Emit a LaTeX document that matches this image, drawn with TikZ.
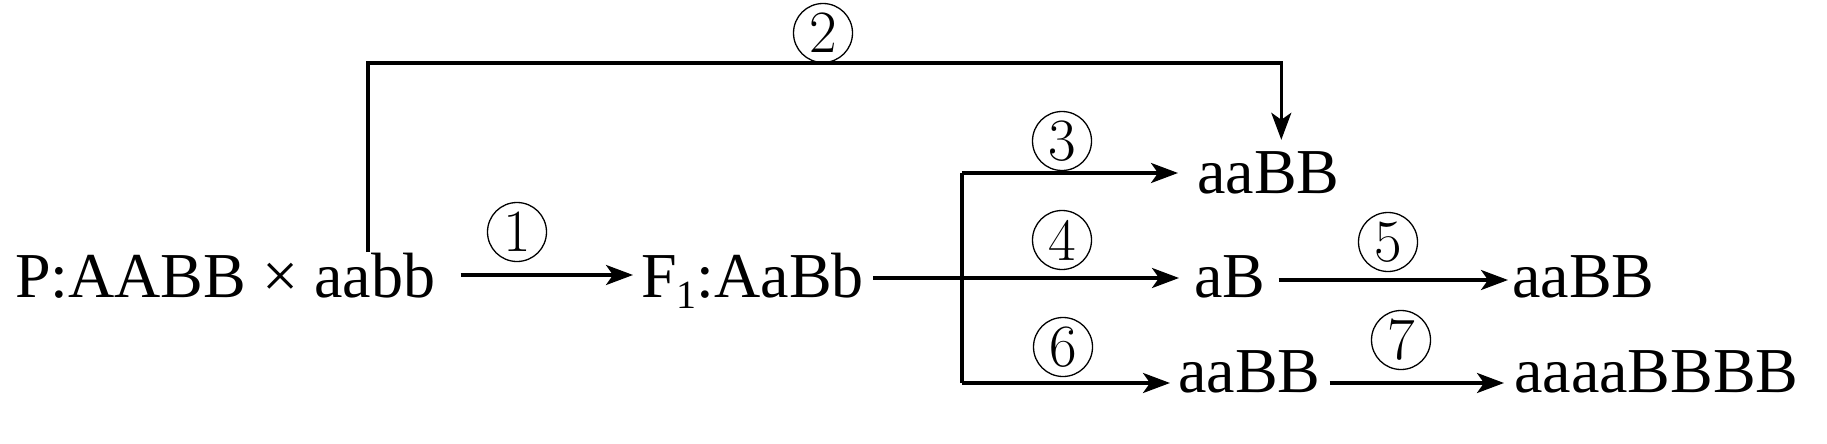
\documentclass[tikz,border=0pt]{standalone}
\usepackage{fontspec}
\newfontfamily\tnr{Liberation Serif}
\usetikzlibrary{arrows.meta}
\begin{document}
\begin{tikzpicture}[x=1pt,y=-1pt,
  lbl/.style={font=\tnr\fontsize{64}{64}\selectfont, inner sep=0pt, anchor=base west, text height=44pt, text depth=0pt},
  num/.style={draw, circle, line width=1.3pt, minimum size=59pt, inner sep=0pt, font=\fontsize{60}{60}\selectfont},
  conn/.style={line width=3.3pt},
  arr/.style={conn, -{Stealth[length=27pt,width=20pt,inset=7pt]}}]
\useasboundingbox (0,0) rectangle (1827,444);
% texts
\node[lbl] (p)  at (15,297)   {P:AABB × aabb};
\node[lbl] (f1) at (641,297)  {F\raisebox{-11pt}{\fontsize{40}{40}\selectfont 1}:AaBb};
\node[lbl] (t1) at (1197,193) {aaBB};
\node[lbl] (m1) at (1194,297) {aB};
\node[lbl] (m2) at (1512,297) {aaBB};
\node[lbl] (b1) at (1178,392) {aaBB};
\node[lbl] (b2) at (1514,392) {aaaaBBBB};
% circled numbers
\node[num] (n1) at (517,232)  {1};
\node[num] (n2) at (823,33)   {2};
\node[num] (n3) at (1062,141) {3};
\node[num] (n4) at (1062,240) {4};
\node[num] (n5) at (1388,242) {5};
\node[num] (n6) at (1063,347) {6};
\node[num] (n7) at (1401,340) {7};
% coordinates
\coordinate (brS) at (368,252);
\coordinate (busT) at (962,173);
\coordinate (busB) at (962,383);
% connectors
\draw[arr] ([xshift=25pt]p.east) -- ([xshift=-8pt]f1.west);
\draw[arr] (brS) -- (brS |- 0,63) -| ([xshift=13pt,yshift=9pt]t1.north);
\draw[arr] ([xshift=9pt,yshift=-3pt]f1.east) -- ([xshift=-15pt,yshift=-3pt]m1.west);
\draw[conn] (busT) -- (busB);
\draw[arr] (busT) -- ([xshift=-19pt]busT -| t1.west);
\draw[arr] (busB) -- ([xshift=-8pt]busB -| b1.west);
\draw[arr] ([xshift=13pt,yshift=-5pt]m1.east) -- ([xshift=-4pt,yshift=-5pt]m2.west);
\draw[arr] ([xshift=9pt,yshift=-13pt]b1.east) -- ([xshift=-10pt,yshift=-13pt]b2.west);
\end{tikzpicture}
\end{document}
